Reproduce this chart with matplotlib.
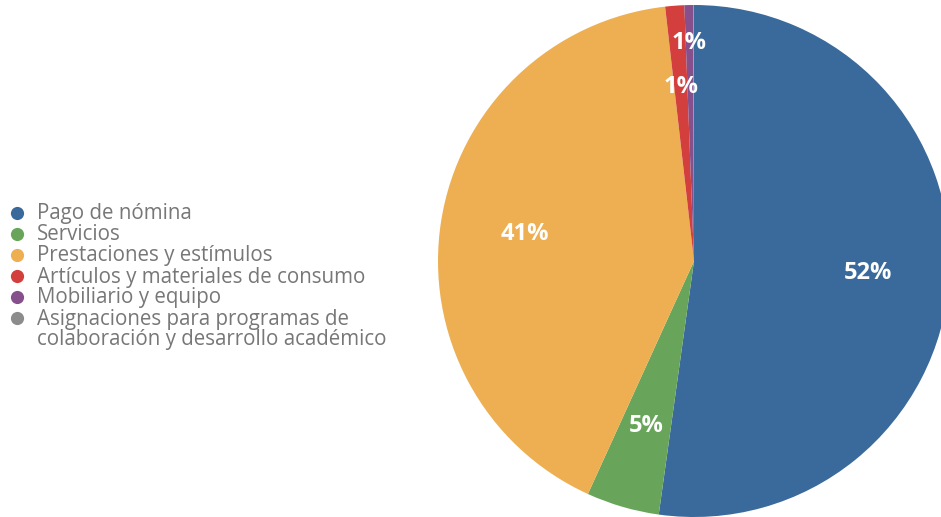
import numpy as np
import matplotlib.pyplot as plt

plt.rcParams['font.family'] = ['Open Sans', 'DejaVu Sans']

categories = ['Pago de nómina', 'Servicios', 'Prestaciones y estímulos',
              'Artículos y materiales de consumo', 'Mobiliario y equipo',
              'Asignaciones para programas de\ncolaboración y desarrollo académico']
values = [52.2, 4.6, 41.4, 1.2, 0.55, 0.05]
labels = ['52%', '5%', '41%', '1%', '1%', '']
colors = ['#3a6a9b', '#68a55a', '#eeaf52', '#d23f3d', '#86508c', '#8c8c8c']
label_r = [0.68, 0.67, 0.67, 0.68, 0.85, 0.7]

W, H = 941, 517
fig = plt.figure(figsize=(W / 100, H / 100), dpi=100)

# pie: centre (694, 261) px, radius 256 px
cx, cy, R = 694, 261, 256
ax = fig.add_axes([(cx - R) / W, (H - cy - R) / H, 2 * R / W, 2 * R / H])
wedges, _ = ax.pie(values, colors=colors, startangle=90, counterclock=False,
                   radius=1, wedgeprops=dict(linewidth=0))
ax.set_xlim(-1, 1)
ax.set_ylim(-1, 1)
ax.set_aspect('auto')

for w, lab, r in zip(wedges, labels, label_r):
    if not lab:
        continue
    ang = np.deg2rad((w.theta1 + w.theta2) / 2)
    ax.text(r * np.cos(ang), r * np.sin(ang), lab, color='white',
            fontsize=17, fontweight='bold', ha='center', va='center')

# legend drawn in pixel space
lax = fig.add_axes([0, 0, 1, 1], facecolor='none')
lax.set_xlim(0, W)
lax.set_ylim(H, 0)
lax.axis('off')
y0, step = 213, 21
for i, (cat, c) in enumerate(zip(categories, colors)):
    y = y0 + i * step
    lax.plot(17, y, 'o', ms=9.5, color=c, mec='none')
    lax.text(37, y - 9.5, cat, color='#777777', fontsize=14.8, va='top',
             ha='left', linespacing=1.0)

fig.savefig('out.png', dpi=100)
